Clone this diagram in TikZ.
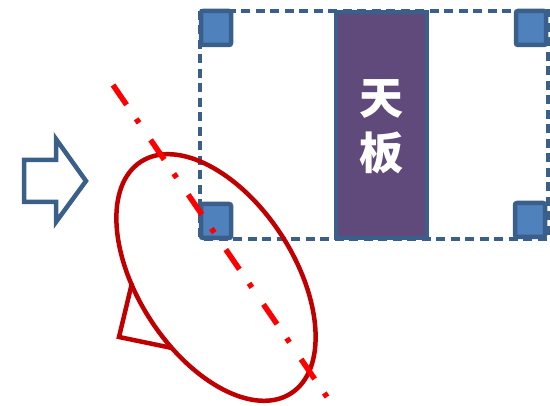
\documentclass[tikz,border=0pt]{standalone}
\usepackage{fontspec}
\newfontfamily\cjk{Noto Sans CJK SC}
\usepackage{tikz}
\usetikzlibrary{calc}
\definecolor{boxfill}{HTML}{4F81BD}
\definecolor{boxline}{HTML}{3A5F8B}
\definecolor{panel}{HTML}{604A7B}
\definecolor{darkred}{HTML}{C00000}
\begin{document}
\begin{tikzpicture}[x=1pt,y=-1pt,
    corner/.style={fill=boxfill, draw=boxline, line width=4.5pt, rounded corners=2pt},
    axisline/.style={draw=red, line width=5.5pt, dash pattern=on 24pt off 17pt on 5pt off 20.5pt}]
    \useasboundingbox (0,0) rectangle (550,406);

    % table outline
    \draw[boxline, line width=3.3pt, dash pattern=on 9pt off 5.5pt] (200,11) rectangle (548,239);
    \foreach \x/\y in {201/11, 201/204, 516/11, 515/203} {
      \draw[corner] (\x,\y) rectangle ++(30,34);
    }
    \draw[fill=panel, draw=boxline, line width=4.5pt] (336,12) rectangle (427,238);
    \node[text=white, align=center, font=\cjk\bfseries\fontsize{44}{55}\selectfont] (top) at (381,127) {天\\板};

    % view direction
    \draw[boxline, line width=4.5pt, miter limit=10] (24,160) -- (56,160) -- (56,139) -- (86,181)
      -- (56,222) -- (56,202) -- (24,202) -- cycle;

    % camera
    \draw[darkred, line width=4.5pt] (132,283) -- (119,337) -- (172,348);
    \draw[darkred, line width=4.5pt, rotate around={-57:(216,277.5)}] (216,277.5) ellipse [x radius=138, y radius=78];
    \coordinate (a) at (113,85);
    \coordinate (b) at (327,397);
    \draw[axisline] (a) -- (b);
\end{tikzpicture}
\end{document}
